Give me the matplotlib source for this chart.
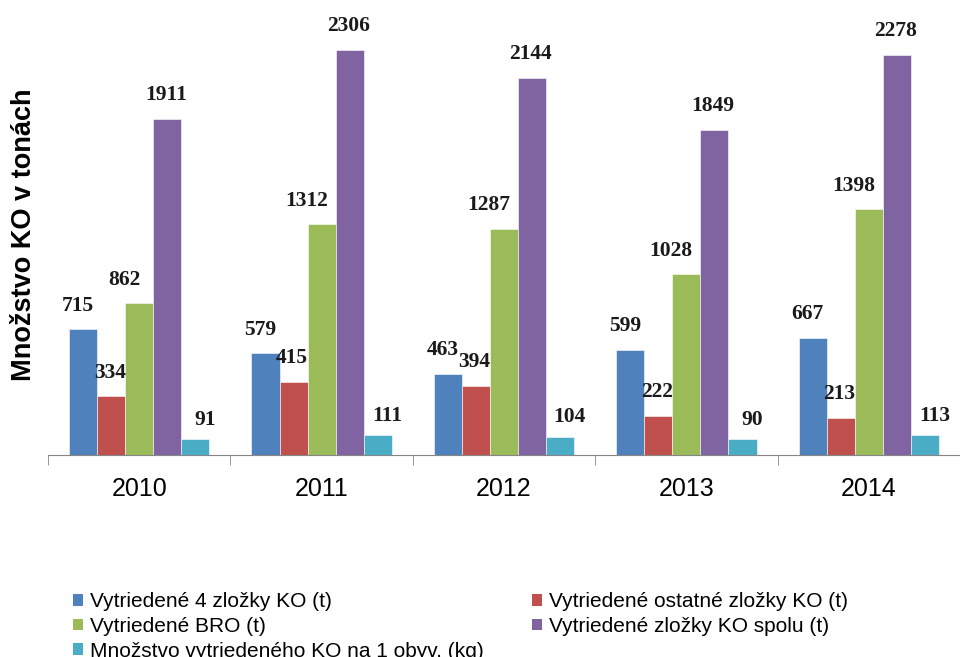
import matplotlib.pyplot as plt
from matplotlib.patches import Patch
import numpy as np

# data
years = ["2010", "2011", "2012", "2013", "2014"]
names = ["Vytriedené 4 zložky KO (t)",
         "Vytriedené ostatné zložky KO (t)",
         "Vytriedené BRO (t)",
         "Vytriedené zložky KO spolu (t)",
         "Množstvo vytriedeného KO na 1 obyv. (kg)"]
styri_zlozky = [715, 579, 463, 599, 667]
ostatne = [334, 415, 394, 222, 213]
bro = [862, 1312, 1287, 1028, 1398]
spolu = [1911, 2306, 2144, 1849, 2278]
na_obyv = [91, 111, 104, 90, 113]

series = [styri_zlozky, ostatne, bro, spolu, na_obyv]
colors = ["#4F81BD", "#C0504D", "#9BBB59", "#8064A2", "#4BACC6"]
# label offsets (points) - excel puts them a bit off-centre
label_dx = [-4, -1, -11, -1, 7]
label_dy = [17, 17, 17, 17, 14]

fig = plt.figure(figsize=(9.6, 6.57), dpi=100)
ax = fig.add_axes([48/960, 1-455/657, 1-48/960, 455/657])

x = np.arange(len(years))
w = 1/6.5
for i, vals in enumerate(series):
    pos = x + (i-2)*w
    bars = ax.bar(pos, vals, w, color=colors[i], edgecolor="white", linewidth=0.4)
    for b, v in zip(bars, vals):
        ax.annotate(str(v), (b.get_x()+b.get_width()/2, v),
                    xytext=(label_dx[i], label_dy[i]), textcoords="offset points",
                    ha="center", va="center", fontsize=15.5,
                    family="Liberation Serif", fontweight="bold", color="#1a1a1a")

ax.set_xlim(-0.5, 4.5)
ax.set_ylim(0, 455/0.1758)

# only bottom axis line, ticks between groups
for s in ["left", "right", "top"]:
    ax.spines[s].set_visible(False)
ax.spines["bottom"].set_color("#868686")
ax.set_yticks([])
ax.set_xticks(x)
ax.set_xticklabels(years, fontsize=18, family="Liberation Sans")
ax.tick_params(axis="x", which="major", length=0, pad=16)
ax.set_xticks(np.arange(-0.5, 5, 1), minor=True)
ax.tick_params(axis="x", which="minor", length=7.5, color="#868686", direction="out")

fig.text(24/960, 1-235/657, "Množstvo KO v tonách", rotation=90, ha="center", va="center",
         fontsize=19.5, family="Liberation Sans", fontweight="bold")

# legend in two blocks, row-wise like excel
handles = [Patch(facecolor=c) for c in colors]
leg_kw = dict(loc="upper left", frameon=False, handlelength=0.5, handleheight=0.5,
              handletextpad=0.3, labelspacing=0.28, borderpad=0, borderaxespad=0,
              prop={"family": "Liberation Sans", "size": 15})
fig.legend([handles[0], handles[2], handles[4]], [names[0], names[2], names[4]],
           bbox_to_anchor=(73/960, 1-592/657), **leg_kw)
fig.legend([handles[1], handles[3]], [names[1], names[3]],
           bbox_to_anchor=(532/960, 1-592/657), **leg_kw)

fig.savefig("out.png", dpi=100)
